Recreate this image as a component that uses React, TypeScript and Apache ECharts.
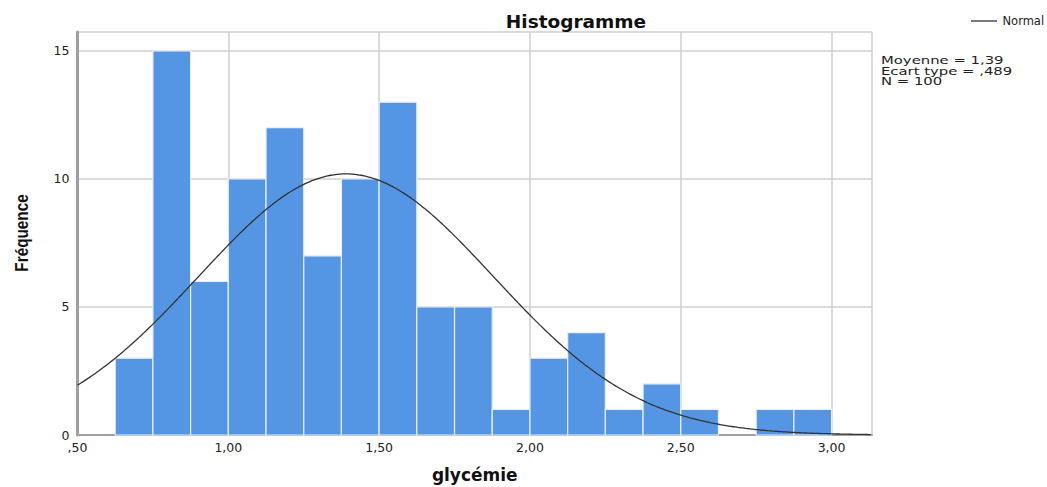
import React, { useEffect, useRef } from "react";
import * as echarts from "echarts";

const binStarts = [0.625, 0.75, 0.875, 1.0, 1.125, 1.25, 1.375, 1.5, 1.625, 1.75, 1.875, 2.0, 2.125, 2.25, 2.375, 2.5, 2.625, 2.75, 2.875];
const binWidth = 0.125;
const counts = [3, 15, 6, 10, 12, 7, 10, 13, 5, 5, 1, 3, 4, 1, 2, 1, 0, 1, 1];
const mean = 1.39;
const sd = 0.489;
const n = 100;
const yTicks = [0, 5, 10, 15];
const xMin = 0.5;
const xMax = 3.134;
const yMax = 15.74;
const statsLines = ["Moyenne = 1,39", "Ecart type = ,489", "N = 100"];

const fmtX = (v: number) => v.toFixed(2).replace(".", ",").replace(/^0/, "");

export default function App() {
  const ref = useRef<HTMLDivElement>(null);
  useEffect(() => {
    if (!ref.current) return;
    const chart = echarts.init(ref.current, undefined, { renderer: "svg" });
    const barData = binStarts.map((s, i) => [s, s + binWidth, counts[i]]);
    const curve: number[][] = [];
    for (let x = xMin; x <= xMax + 1e-9; x += 0.01) {
      const z = (x - mean) / sd;
      curve.push([x, (n * binWidth) / (sd * Math.sqrt(2 * Math.PI)) * Math.exp(-0.5 * z * z)]);
    }
    const font = "'DejaVu Sans', Verdana, sans-serif";
    chart.setOption({
      animation: false,
      textStyle: { fontFamily: font },
      grid: { left: 77.5, right: 175, top: 32, bottom: 52, containLabel: false, outerBoundsMode: "none" },
      xAxis: {
        type: "value",
        min: xMin,
        max: xMax,
        interval: 0.5,
        axisLine: { show: true, onZero: false, lineStyle: { color: "#a0a0a0", width: 2 } },
        axisTick: { show: false },
        axisLabel: { color: "#222", fontSize: 12.5, margin: 6, fontFamily: font, formatter: (v: number) => (v > 3.01 ? "" : fmtX(v)), showMaxLabel: false },
        splitLine: { show: true, lineStyle: { color: "#cfcfcf", width: 1.5 } },
        name: "glycémie",
        nameLocation: "middle",
        nameGap: 31,
        nameTextStyle: { fontSize: 17, fontWeight: "bold", color: "#111", fontFamily: font },
      },
      yAxis: {
        type: "value",
        min: 0,
        max: yMax,
        interval: 5,
        axisLine: { show: true, lineStyle: { color: "#a0a0a0", width: 3 } },
        axisTick: { show: false },
        axisLabel: { color: "#222", fontSize: 12.5, margin: 8, fontFamily: font, formatter: (v: number) => (yTicks.includes(v) ? String(v) : ""), showMaxLabel: false },
        splitLine: { show: true, lineStyle: { color: "#cfcfcf", width: 1.5 } },
      },
      title: {
        text: "Histogramme",
        left: 571,
        top: 7,
        textAlign: "center",
        textStyle: { fontSize: 18.5, fontWeight: "bold", color: "#111", fontFamily: font },
      },
      legend: {
        show: true,
        data: [{ name: "Normal", icon: "path://M0,0 L20,0 L20,1 L0,1 Z" }],
        left: 966,
        top: 10,
        itemWidth: 29,
        itemHeight: 1.3,
        itemGap: 4,
        textStyle: { fontSize: 11.5, color: "#222", fontFamily: font, padding: [0, 0, 0, -1] },
      },
      graphic: [
        {
          type: "text",
          x: 881,
          y: 55,
          scaleX: 1.35,
          style: { text: statsLines.join("\n"), fontSize: 11, lineHeight: 10.5, fill: "#222", fontFamily: font },
        },
        {
          type: "text",
          x: 22,
          y: 233,
          rotation: Math.PI / 2,
          scaleX: 0.85,
          style: {
            text: "Fréquence",
            fontSize: 18,
            fontWeight: "bold",
            fill: "#111",
            fontFamily: "'Liberation Sans', Arial, sans-serif",
            align: "center",
            verticalAlign: "middle",
          },
        },
      ],
      series: [
        {
          type: "custom",
          name: "bars",
          data: barData,
          encode: { x: [0, 1], y: 2 },
          renderItem: (params: any, api: any) => {
            const x0 = api.value(0);
            const x1 = api.value(1);
            const c = api.value(2);
            if (!c) return null;
            const p0 = api.coord([x0, c]);
            const p1 = api.coord([x1, 0]);
            return {
              type: "rect",
              shape: { x: p0[0], y: p0[1], width: p1[0] - p0[0], height: p1[1] - p0[1] },
              style: { fill: "#5596e4", stroke: "#e8f0fb", lineWidth: 1.2 },
            };
          },
          z: 2,
        },
        {
          type: "line",
          name: "Normal",
          data: curve,
          showSymbol: false,
          smooth: true,
          lineStyle: { color: "#333", width: 1.3 },
          itemStyle: { color: "#333" },
          z: 3,
        },
      ],
    });
    return () => chart.dispose();
  }, []);
  return <div ref={ref} style={{ width: 1047, height: 487, position: "absolute", left: 0, top: 0 }} />;
}
